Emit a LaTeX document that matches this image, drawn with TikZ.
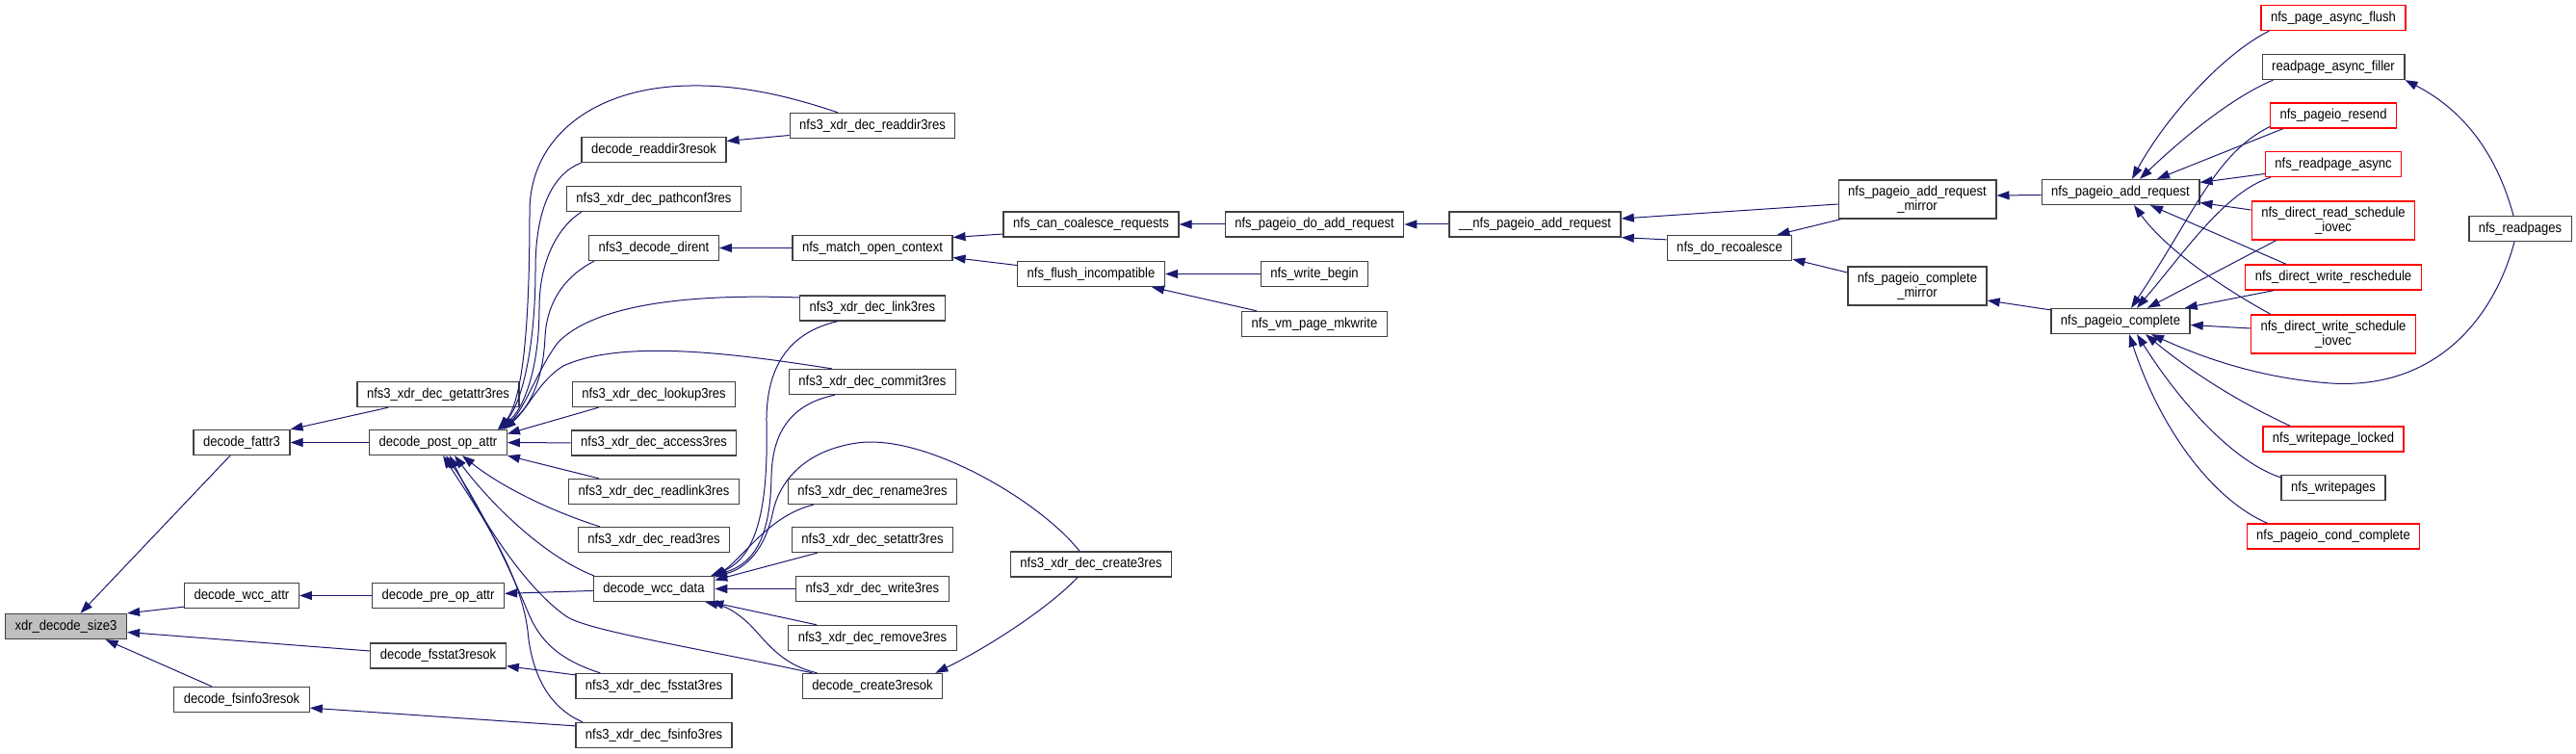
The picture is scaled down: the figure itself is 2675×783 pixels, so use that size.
\documentclass[tikz,border=0pt]{standalone}
\usepackage{fontspec}
\setmainfont{Liberation Sans}[FakeStretch=0.9]
\usepackage{xcolor}
\definecolor{edgeblue}{RGB}{25, 25, 112}
\definecolor{boxgray}{RGB}{64, 64, 64}
\definecolor{rootgray}{RGB}{191, 191, 191}
\definecolor{truncred}{RGB}{255, 0, 0}
\usepackage{tikz}
\usetikzlibrary{arrows.meta, calc}

\begin{document}
\begin{tikzpicture}[x=1pt, y=-1pt,
    fn/.style={draw=boxgray, line width=1.3pt, fill=white, font=\fontsize{14.5}{14.5}\selectfont,
        inner xsep=10pt, inner ysep=0pt, minimum height=26pt, align=center},
    fnred/.style={fn, draw=truncred},
    fnroot/.style={fn, fill=rootgray},
    fntwo/.style={minimum height=40pt},
    calledge/.style={draw=edgeblue, line width=1pt, -{Triangle[length=13pt, width=9pt]}}]
    \useasboundingbox (0,0) rectangle (2675,783);

    % nfs3 xdr side
    \node[fnroot] (size3) at (68.5,650.5) {xdr\_decode\_size3};
    \node[fn] (fattr3) at (251,459.5) {decode\_fattr3};
    \node[fn] (wccattr) at (251,618.5) {decode\_wcc\_attr};
    \node[fn] (fsinfook) at (251,726.5) {decode\_fsinfo3resok};
    \node[fn] (getattr) at (455,409.5) {nfs3\_xdr\_dec\_getattr3res};
    \node[fn] (postop) at (455,459.5) {decode\_post\_op\_attr};
    \node[fn] (preop) at (455,618.5) {decode\_pre\_op\_attr};
    \node[fn] (fsstatok) at (455,681) {decode\_fsstat3resok};
    \node[fn] (readdirok) at (679,155.5) {decode\_readdir3resok};
    \node[fn] (pathconf) at (679,206.5) {nfs3\_xdr\_dec\_pathconf3res};
    \node[fn] (dirent) at (679,257.5) {nfs3\_decode\_dirent};
    \node[fn] (lookup) at (679,409.5) {nfs3\_xdr\_dec\_lookup3res};
    \node[fn] (access) at (679,460) {nfs3\_xdr\_dec\_access3res};
    \node[fn] (readlink) at (679,510.5) {nfs3\_xdr\_dec\_readlink3res};
    \node[fn] (read) at (679,560.5) {nfs3\_xdr\_dec\_read3res};
    \node[fn] (wccdata) at (679,611.5) {decode\_wcc\_data};
    \node[fn] (fsstat) at (679,712.5) {nfs3\_xdr\_dec\_fsstat3res};
    \node[fn] (fsinfo) at (679,763.5) {nfs3\_xdr\_dec\_fsinfo3res};
    \node[fn] (readdir) at (906,130.5) {nfs3\_xdr\_dec\_readdir3res};
    \node[fn] (match) at (906,257.5) {nfs\_match\_open\_context};
    \node[fn] (link) at (906,320) {nfs3\_xdr\_dec\_link3res};
    \node[fn] (commit) at (906,396.5) {nfs3\_xdr\_dec\_commit3res};
    \node[fn] (rename) at (906,510.5) {nfs3\_xdr\_dec\_rename3res};
    \node[fn] (setattr) at (906,560.5) {nfs3\_xdr\_dec\_setattr3res};
    \node[fn] (write) at (906,611.5) {nfs3\_xdr\_dec\_write3res};
    \node[fn] (remove) at (906,662.5) {nfs3\_xdr\_dec\_remove3res};
    \node[fn] (createok) at (906,712.5) {decode\_create3resok};
    \node[fn] (create) at (1133,586) {nfs3\_xdr\_dec\_create3res};

    % pageio side
    \node[fn] (coalesce) at (1133,233) {nfs\_can\_coalesce\_requests};
    \node[fn] (flush) at (1133,284.5) {nfs\_flush\_incompatible};
    \node[fn] (doadd) at (1365,233) {nfs\_pageio\_do\_add\_request};
    \node[fn] (writebegin) at (1365,284.5) {nfs\_write\_begin};
    \node[fn] (mkwrite) at (1365,336.5) {nfs\_vm\_page\_mkwrite};
    \node[fn] (addreq) at (1594,233) {\_\_nfs\_pageio\_add\_request};
    \node[fn] (recoalesce) at (1796,257.5) {nfs\_do\_recoalesce};
    \node[fn, fntwo] (addmirror) at (1991,207) {nfs\_pageio\_add\_request\\\_mirror};
    \node[fn, fntwo] (completemirror) at (1991,297) {nfs\_pageio\_complete\\\_mirror};
    \node[fn] (pageioadd) at (2202,199.5) {nfs\_pageio\_add\_request};
    \node[fn] (pageiocomplete) at (2202,333.5) {nfs\_pageio\_complete};
    \node[fnred] (asyncflush) at (2423,18.5) {nfs\_page\_async\_flush};
    \node[fn] (filler) at (2423,69.5) {readpage\_async\_filler};
    \node[fnred] (resend) at (2423,120) {nfs\_pageio\_resend};
    \node[fnred] (readasync) at (2423,170.5) {nfs\_readpage\_async};
    \node[fnred, fntwo] (readiovec) at (2423,229) {nfs\_direct\_read\_schedule\\\_iovec};
    \node[fnred] (reschedule) at (2423,288) {nfs\_direct\_write\_reschedule};
    \node[fnred, fntwo] (writeiovec) at (2423,347) {nfs\_direct\_write\_schedule\\\_iovec};
    \node[fnred] (writepagelocked) at (2423,456) {nfs\_writepage\_locked};
    \node[fn] (writepages) at (2423,506.5) {nfs\_writepages};
    \node[fnred] (condcomplete) at (2423,557) {nfs\_pageio\_cond\_complete};
    \node[fn] (readpages) at (2617,237.5) {nfs\_readpages};

    % calls into xdr_decode_size3 and its callers
    \draw[calledge] ($(fattr3.south)+(-12,0)$) -- ($(size3.north)+(15,0)$);
    \draw[calledge] ($(wccattr.south west)+(0,-2)$) -- (size3.north east);
    \draw[calledge] ($(fsstatok.west)+(0,-5)$) -- ($(size3.east)+(0,6)$);
    \draw[calledge] ($(fsinfook.north)+(-31,0)$) -- ($(size3.south)+(41,0)$);
    \draw[calledge] ($(getattr.south west)+(33,0)$) -- (fattr3.north east);
    \draw[calledge] (postop) -- (fattr3);
    \draw[calledge] (preop) -- (wccattr);
    \draw[calledge] (wccdata) -- (preop);
    \draw[calledge] ($(fsstat.north west)+(0,2)$) -- ($(fsstatok.south east)+(0,-3)$);
    \draw[calledge] ($(fsinfo.north west)+(0,4)$) -- ($(fsinfook.south east)+(0,-5)$);

    % calls into decode_post_op_attr
    \draw[calledge] ($(readdir.north)+(-36,0)$) .. controls (820,100) and (770,88) .. (717,89)
        .. controls (620,90) and (550,140) .. (550,220)
        .. controls (550,320) and (545,410) .. ($(postop.north east)+(-8,0)$);
    \draw[calledge] (readdirok.south west) .. controls (575,180) and (556,215) .. (556,280)
        .. controls (556,360) and (542,420) .. ($(postop.north east)+(-10,0)$);
    \draw[calledge] ($(pathconf.south west)+(16,0)$) .. controls (580,235) and (560,270) .. (560,320)
        .. controls (560,380) and (545,425) .. ($(postop.north east)+(-10,0)$);
    \draw[calledge] ($(dirent.south west)+(6,0)$) .. controls (590,285) and (568,310) .. (566,350)
        .. controls (564,395) and (550,425) .. ($(postop.north east)+(-8,0)$);
    \draw[calledge] ($(link.west)+(0,-11)$) .. controls (720,305) and (620,315) .. (580,355)
        .. controls (560,380) and (545,425) .. ($(postop.north east)+(-6,0)$);
    \draw[calledge] ($(commit.north west)+(45,0)$) .. controls (780,370) and (650,350) .. (585,380)
        .. controls (560,395) and (548,425) .. ($(postop.north east)+(-4,0)$);
    \draw[calledge] ($(lookup.south west)+(28,0)$) -- ($(postop.east)+(0,-9)$);
    \draw[calledge] (access) -- (postop);
    \draw[calledge] ($(readlink.north west)+(32,0)$) -- (postop.south east);
    \draw[calledge] ($(read.north west)+(23,0)$) .. controls (570,530) and (520,505) .. ($(postop.south)+(25,0)$);
    \draw[calledge] ($(wccdata.north west)+(1,0)$) .. controls (570,580) and (515,530) .. ($(postop.south)+(17,0)$);
    \draw[calledge] ($(createok.north west)+(11,0)$) .. controls (720,672) and (610,655) .. (588,640)
        .. controls (545,610) and (500,540) .. ($(postop.south)+(12,0)$);
    \draw[calledge] ($(fsstat.north west)+(26,0)$) .. controls (580,685) and (560,665) .. (548,635)
        .. controls (525,580) and (495,520) .. ($(postop.south)+(8,0)$);
    \draw[calledge] ($(fsinfo.north west)+(8,0)$) .. controls (570,735) and (552,700) .. (548,655)
        .. controls (540,590) and (490,520) .. ($(postop.south)+(5,0)$);

    % calls into decode_wcc_data
    \draw[calledge] ($(link.south)+(-36,0)$) .. controls (820,345) and (795,380) .. (796,440)
        .. controls (798,530) and (785,580) .. ($(wccdata.north east)+(-4,0)$);
    \draw[calledge] ($(commit.south)+(-39,0)$) .. controls (820,420) and (802,450) .. (801,495)
        .. controls (800,555) and (785,585) .. ($(wccdata.north east)+(-2,0)$);
    \draw[calledge] ($(create.north)+(-12,0)$) .. controls (1080,520) and (960,450) .. (890,460)
        .. controls (835,468) and (810,500) .. (803,530)
        .. controls (795,570) and (775,590) .. ($(wccdata.north east)+(0,1)$);
    \draw[calledge] ($(rename.south west)+(27,0)$) .. controls (800,535) and (775,575) .. ($(wccdata.north east)+(0,2)$);
    \draw[calledge] ($(setattr.south west)+(27,0)$) -- ($(wccdata.east)+(0,-9)$);
    \draw[calledge] (write) -- (wccdata);
    \draw[calledge] ($(remove.north west)+(30,0)$) -- ($(wccdata.south east)+(-4,0)$);
    \draw[calledge] ($(createok.north west)+(16,0)$) .. controls (810,690) and (795,665) .. (778,648)
        .. controls (765,636) and (755,630) .. ($(wccdata.south east)+(-10,0)$);
    \draw[calledge] ($(create.south)+(-14,0)$) .. controls (1090,630) and (1030,670) .. ($(createok.north east)+(-8,0)$);
    \draw[calledge] ($(readdir.west)+(0,10)$) -- ($(readdirok.east)+(0,-9)$);

    % pageio chain
    \draw[calledge] (match) -- (dirent);
    \draw[calledge] ($(coalesce.west)+(0,10)$) -- ($(match.east)+(0,-11)$);
    \draw[calledge] ($(flush.west)+(0,-9)$) -- ($(match.east)+(0,10)$);
    \draw[calledge] (doadd) -- (coalesce);
    \draw[calledge] (addreq) -- (doadd);
    \draw[calledge] (writebegin) -- (flush);
    \draw[calledge] ($(mkwrite.north west)+(16,0)$) -- ($(flush.south east)+(-14,0)$);
    \draw[calledge] ($(addmirror.west)+(0,5)$) -- ($(addreq.east)+(0,-6)$);
    \draw[calledge] ($(recoalesce.north west)+(0,5)$) -- (addreq.south east);
    \draw[calledge] ($(addmirror.south west)+(3,0)$) -- ($(recoalesce.north east)+(-16,0)$);
    \draw[calledge] ($(completemirror.west)+(0,-14)$) -- ($(recoalesce.south east)+(0,-2)$);
    \draw[calledge] ($(pageioadd.west)+(0,3)$) -- ($(addmirror.east)+(0,-4)$);
    \draw[calledge] ($(pageiocomplete.north west)+(0,2)$) -- ($(completemirror.east)+(0,15)$);

    % callers of nfs_pageio_add_request
    \draw[calledge] ($(asyncflush.south west)+(9,0)$) .. controls (2310,55) and (2250,120) .. ($(pageioadd.north)+(12,0)$);
    \draw[calledge] ($(filler.south west)+(12,0)$) .. controls (2320,100) and (2270,140) .. ($(pageioadd.north)+(20,0)$);
    \draw[calledge] ($(resend.south west)+(14,0)$) -- ($(pageioadd.north)+(38,0)$);
    \draw[calledge] ($(readasync.west)+(0,10)$) -- ($(pageioadd.east)+(0,-10)$);
    \draw[calledge] ($(readiovec.west)+(0,-11)$) -- ($(pageioadd.east)+(0,11)$);
    \draw[calledge] ($(reschedule.north west)+(43,0)$) -- ($(pageioadd.south)+(31,0)$);
    \draw[calledge] ($(writeiovec.north west)+(21,0)$) .. controls (2310,300) and (2250,260) .. ($(pageioadd.south)+(14,0)$);

    % callers of nfs_pageio_complete
    \draw[calledge] ($(resend.south west)+(0,-2)$) .. controls (2300,160) and (2280,220) .. ($(pageiocomplete.north)+(11,0)$);
    \draw[calledge] ($(readasync.south west)+(6,0)$) .. controls (2310,200) and (2270,260) .. ($(pageiocomplete.north)+(17,0)$);
    \draw[calledge] ($(readiovec.south west)+(26,0)$) -- ($(pageiocomplete.north)+(28,0)$);
    \draw[calledge] ($(reschedule.south west)+(30,0)$) -- ($(pageiocomplete.north east)+(-6,0)$);
    \draw[calledge] ($(writeiovec.west)+(0,-6)$) -- ($(pageiocomplete.east)+(0,4)$);
    \draw[calledge] ($(readpages.south)+(-6,0)$) .. controls (2590,330) and (2530,405) .. (2420,398)
        .. controls (2340,392) and (2280,368) .. ($(pageiocomplete.south)+(32,0)$);
    \draw[calledge] ($(readpages.north)+(-7,0)$) .. controls (2590,150) and (2550,110) .. (filler.south east);
    \draw[calledge] ($(writepagelocked.north west)+(29,0)$) .. controls (2330,420) and (2280,390) .. ($(pageiocomplete.south)+(26,0)$);
    \draw[calledge] ($(writepages.north west)+(0,3)$) .. controls (2320,480) and (2265,420) .. ($(pageiocomplete.south)+(17,0)$);
    \draw[calledge] ($(condcomplete.north west)+(22,0)$) .. controls (2300,520) and (2245,450) .. ($(pageiocomplete.south)+(9,0)$);
\end{tikzpicture}
\end{document}
